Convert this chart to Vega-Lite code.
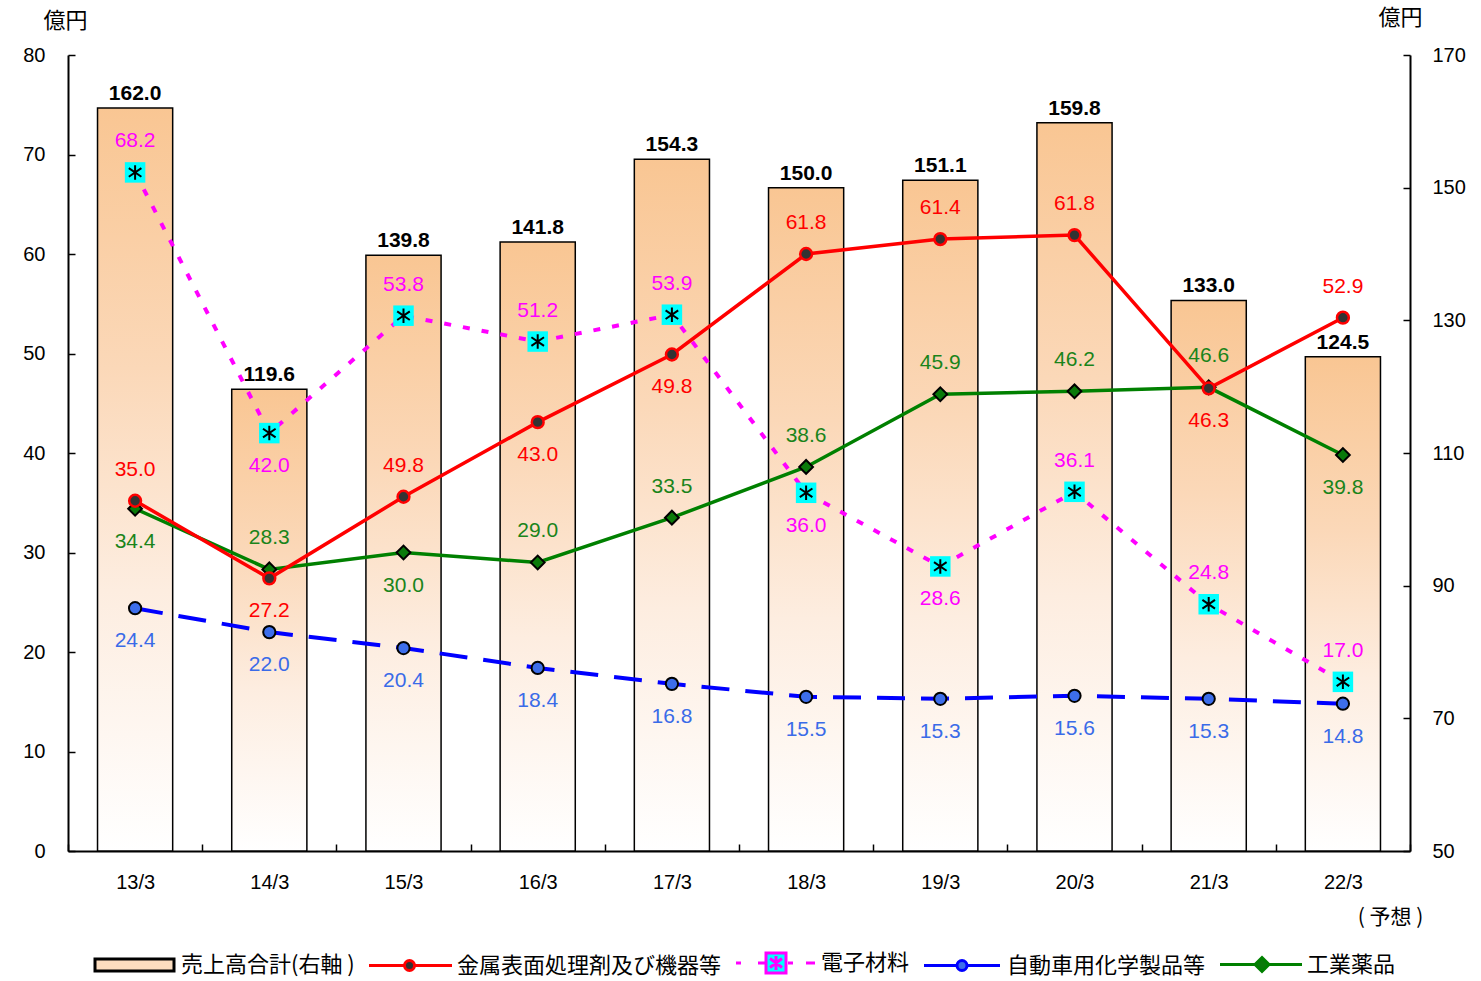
{
  "$schema": "https://vega.github.io/schema/vega-lite/v6.json",
  "width": 1342,
  "height": 796,
  "autosize": {"type": "none"},
  "padding": {"left": 68, "top": 55, "right": 71, "bottom": 130},
  "background": "white",
  "config": {
    "view": {"stroke": null},
    "font": "Liberation Sans",
    "axis": {"labelFont": "Liberation Sans", "labelColor": "black", "labelFontSize": 20, "domainColor": "black", "domainWidth": 2, "tickColor": "black", "tickWidth": 1.5, "grid": false}
  },
  "datasets": {
    "bars": [
      {"cat": "13/3", "total": 162.0},
      {"cat": "14/3", "total": 119.6},
      {"cat": "15/3", "total": 139.8},
      {"cat": "16/3", "total": 141.8},
      {"cat": "17/3", "total": 154.3},
      {"cat": "18/3", "total": 150.0},
      {"cat": "19/3", "total": 151.1},
      {"cat": "20/3", "total": 159.8},
      {"cat": "21/3", "total": 133.0},
      {"cat": "22/3", "total": 124.5}
    ],
    "lines": [
      {"cat": "13/3", "series": "金属表面処理剤及び機器等", "value": 35.2, "label": "35.0"},
      {"cat": "14/3", "series": "金属表面処理剤及び機器等", "value": 27.4, "label": "27.2"},
      {"cat": "15/3", "series": "金属表面処理剤及び機器等", "value": 35.6, "label": "49.8"},
      {"cat": "16/3", "series": "金属表面処理剤及び機器等", "value": 43.1, "label": "43.0"},
      {"cat": "17/3", "series": "金属表面処理剤及び機器等", "value": 49.9, "label": "49.8"},
      {"cat": "18/3", "series": "金属表面処理剤及び機器等", "value": 60.0, "label": "61.8"},
      {"cat": "19/3", "series": "金属表面処理剤及び機器等", "value": 61.5, "label": "61.4"},
      {"cat": "20/3", "series": "金属表面処理剤及び機器等", "value": 61.9, "label": "61.8"},
      {"cat": "21/3", "series": "金属表面処理剤及び機器等", "value": 46.5, "label": "46.3"},
      {"cat": "22/3", "series": "金属表面処理剤及び機器等", "value": 53.6, "label": "52.9"},
      {"cat": "13/3", "series": "電子材料", "value": 68.2, "label": "68.2"},
      {"cat": "14/3", "series": "電子材料", "value": 42.0, "label": "42.0"},
      {"cat": "15/3", "series": "電子材料", "value": 53.8, "label": "53.8"},
      {"cat": "16/3", "series": "電子材料", "value": 51.2, "label": "51.2"},
      {"cat": "17/3", "series": "電子材料", "value": 53.9, "label": "53.9"},
      {"cat": "18/3", "series": "電子材料", "value": 36.0, "label": "36.0"},
      {"cat": "19/3", "series": "電子材料", "value": 28.6, "label": "28.6"},
      {"cat": "20/3", "series": "電子材料", "value": 36.1, "label": "36.1"},
      {"cat": "21/3", "series": "電子材料", "value": 24.8, "label": "24.8"},
      {"cat": "22/3", "series": "電子材料", "value": 17.0, "label": "17.0"},
      {"cat": "13/3", "series": "自動車用化学製品等", "value": 24.4, "label": "24.4"},
      {"cat": "14/3", "series": "自動車用化学製品等", "value": 22.0, "label": "22.0"},
      {"cat": "15/3", "series": "自動車用化学製品等", "value": 20.4, "label": "20.4"},
      {"cat": "16/3", "series": "自動車用化学製品等", "value": 18.4, "label": "18.4"},
      {"cat": "17/3", "series": "自動車用化学製品等", "value": 16.8, "label": "16.8"},
      {"cat": "18/3", "series": "自動車用化学製品等", "value": 15.5, "label": "15.5"},
      {"cat": "19/3", "series": "自動車用化学製品等", "value": 15.3, "label": "15.3"},
      {"cat": "20/3", "series": "自動車用化学製品等", "value": 15.6, "label": "15.6"},
      {"cat": "21/3", "series": "自動車用化学製品等", "value": 15.3, "label": "15.3"},
      {"cat": "22/3", "series": "自動車用化学製品等", "value": 14.8, "label": "14.8"},
      {"cat": "13/3", "series": "工業薬品", "value": 34.4, "label": "34.4"},
      {"cat": "14/3", "series": "工業薬品", "value": 28.3, "label": "28.3"},
      {"cat": "15/3", "series": "工業薬品", "value": 30.0, "label": "30.0"},
      {"cat": "16/3", "series": "工業薬品", "value": 29.0, "label": "29.0"},
      {"cat": "17/3", "series": "工業薬品", "value": 33.5, "label": "33.5"},
      {"cat": "18/3", "series": "工業薬品", "value": 38.6, "label": "38.6"},
      {"cat": "19/3", "series": "工業薬品", "value": 45.9, "label": "45.9"},
      {"cat": "20/3", "series": "工業薬品", "value": 46.2, "label": "46.2"},
      {"cat": "21/3", "series": "工業薬品", "value": 46.6, "label": "46.6"},
      {"cat": "22/3", "series": "工業薬品", "value": 39.8, "label": "39.8"}
    ]
  },
  "encoding": {
    "x": {
      "field": "cat", "type": "ordinal", "sort": null,
      "scale": {"domain": ["13/3","14/3","15/3","16/3","17/3","18/3","19/3","20/3","21/3","22/3"], "paddingInner": 0, "paddingOuter": 0},
      "axis": {"labelAngle": 0, "tickBand": "extent", "tickSize": -7, "labelPadding": 28,
        "title": "( 予想 )", "titleX": 1322, "titleY": 66, "titleAlign": "center", "titleBaseline": "middle",
        "titleFont": "Noto Sans CJK JP", "titleFontSize": 21, "titleFontWeight": "normal", "titleColor": "black"}
    }
  },
  "layer": [
    {
      "data": {"name": "bars"},
      "encoding": {
        "y": {"field": "total", "type": "quantitative",
          "scale": {"domain": [50, 170], "nice": false, "zero": false},
          "axis": {"orient": "right", "values": [50, 70, 90, 110, 130, 150, 170], "tickSize": -7, "labelPadding": 29,
            "title": "億円", "titleAngle": 0, "titleX": -10, "titleY": -38, "titleAlign": "center", "titleBaseline": "middle",
            "titleFont": "Noto Sans CJK JP", "titleFontSize": 22, "titleFontWeight": "normal", "titleColor": "black"}}
      },
      "layer": [
        {"mark": {"type": "bar", "width": {"band": 0.56}, "stroke": "black", "strokeWidth": 1.5,
          "fill": {"gradient": "linear", "x1": 0, "y1": 0, "x2": 0, "y2": 1,
            "stops": [{"offset": 0, "color": "#F9C693"}, {"offset": 0.35, "color": "#FBD8B8"}, {"offset": 0.65, "color": "#FDEDE0"}, {"offset": 1, "color": "#FFFFFF"}]}},
          "encoding": {"y2": {"datum": 50}}},
        {"mark": {"type": "text", "dy": -8, "baseline": "alphabetic", "fontWeight": "bold", "fontSize": 21, "color": "black"},
          "encoding": {"text": {"field": "total", "type": "quantitative", "format": ".1f"}}}
      ]
    },
    {
      "data": {"name": "lines"},
      "encoding": {
        "y": {"field": "value", "type": "quantitative",
          "scale": {"domain": [0, 80], "nice": false},
          "axis": {"orient": "left", "values": [0, 10, 20, 30, 40, 50, 60, 70, 80], "tickSize": -7, "labelPadding": 30,
            "title": "億円", "titleAngle": 0, "titleX": -3, "titleY": -35, "titleAlign": "center", "titleBaseline": "middle",
            "titleFont": "Noto Sans CJK JP", "titleFontSize": 22, "titleFontWeight": "normal", "titleColor": "black"}}
      },
      "layer": [
        {"transform": [{"filter": "datum.series == '自動車用化学製品等'"}],
          "mark": {"type": "line", "color": "#0000FF", "strokeWidth": 4, "strokeDash": [28, 16]}},
        {"transform": [{"filter": "datum.series == '電子材料'"}],
          "mark": {"type": "line", "color": "#FF00FF", "strokeWidth": 4, "strokeDash": [7, 12]}},
        {"transform": [{"filter": "datum.series == '工業薬品'"}],
          "mark": {"type": "line", "color": "#008000", "strokeWidth": 3.5}},
        {"transform": [{"filter": "datum.series == '金属表面処理剤及び機器等'"}],
          "mark": {"type": "line", "color": "#FF0000", "strokeWidth": 3.5}},
        {"transform": [{"filter": "datum.series == '自動車用化学製品等'"}],
          "mark": {"type": "point", "shape": "circle", "filled": true, "fill": "#3D6EEB", "stroke": "black", "strokeWidth": 2, "size": 150, "opacity": 1}},
        {"transform": [{"filter": "datum.series == '電子材料'"}],
          "mark": {"type": "point", "shape": "square", "filled": true, "fill": "#00FFFF", "strokeWidth": 0, "size": 420, "opacity": 1}},
        {"transform": [{"filter": "datum.series == '電子材料'"}],
          "mark": {"type": "point", "shape": "M0,-1V1M-0.87,-0.6L0.87,0.6M-0.87,0.6L0.87,-0.6", "filled": false, "stroke": "black", "strokeWidth": 2, "size": 210, "opacity": 1}},
        {"transform": [{"filter": "datum.series == '工業薬品'"}],
          "mark": {"type": "point", "shape": "diamond", "filled": true, "fill": "#0A7A0A", "stroke": "black", "strokeWidth": 2, "size": 190, "opacity": 1}},
        {"transform": [{"filter": "datum.series == '金属表面処理剤及び機器等'"}],
          "mark": {"type": "point", "shape": "circle", "filled": true, "fill": "#333333", "stroke": "#FF0000", "strokeWidth": 2.5, "size": 140, "opacity": 1}},
        {"transform": [{"filter": "(datum.series=='金属表面処理剤及び機器等' && indexof(['13/3','15/3','18/3','19/3','20/3','22/3'], datum.cat) >= 0) || (datum.series=='電子材料' && indexof(['13/3','15/3','16/3','17/3','20/3','21/3','22/3'], datum.cat) >= 0) || (datum.series=='工業薬品' && indexof(['14/3','16/3','17/3','18/3','19/3','20/3','21/3'], datum.cat) >= 0)"}],
          "mark": {"type": "text", "dy": -31, "baseline": "middle", "fontSize": 21},
          "encoding": {"text": {"field": "label"},
            "color": {"field": "series", "type": "nominal", "legend": null,
              "scale": {"domain": ["金属表面処理剤及び機器等", "電子材料", "自動車用化学製品等", "工業薬品"], "range": ["#FF0000", "#FF00FF", "#3A6BE8", "#1A841A"]}}}},
        {"transform": [{"filter": "!((datum.series=='金属表面処理剤及び機器等' && indexof(['13/3','15/3','18/3','19/3','20/3','22/3'], datum.cat) >= 0) || (datum.series=='電子材料' && indexof(['13/3','15/3','16/3','17/3','20/3','21/3','22/3'], datum.cat) >= 0) || (datum.series=='工業薬品' && indexof(['14/3','16/3','17/3','18/3','19/3','20/3','21/3'], datum.cat) >= 0))"}],
          "mark": {"type": "text", "dy": 33, "baseline": "middle", "fontSize": 21},
          "encoding": {"text": {"field": "label"},
            "color": {"field": "series", "type": "nominal", "legend": null,
              "scale": {"domain": ["金属表面処理剤及び機器等", "電子材料", "自動車用化学製品等", "工業薬品"], "range": ["#FF0000", "#FF00FF", "#3A6BE8", "#1A841A"]}}}},
        {"transform": [{"filter": "false"}],
          "mark": {"type": "point", "filled": true, "opacity": 1},
          "encoding": {
            "shape": {"field": "series", "type": "nominal",
              "scale": {"domain": ["売上高合計(右軸 )", "金属表面処理剤及び機器等", "電子材料", "自動車用化学製品等", "工業薬品"],
                "range": [
                  "M-15.2,-1.2H0.6V1.2H-15.2Z",
                  "M-15.6,0H-8.5M-6.5,0H1M-8.5,0A1,1 0 1,1 -6.5,0A1,1 0 1,1 -8.5,0",
                  "M-15,0H-14M-10.6,0H-9.2M-4.6,0H-3.6M-1,0H0.8M-9,-2H-5V2H-9ZM-7,-1.4V1.4M-8.2,-0.9L-5.8,0.9M-8.2,0.9L-5.8,-0.9",
                  "M-14.6,0H-8M-6,0H0.6M-8,0A1,1 0 1,1 -6,0A1,1 0 1,1 -8,0",
                  "M-15.4,0H-8.4M-5.6,0H1M-7,-1.4L-5.6,0L-7,1.4L-8.4,0Z"
                ]},
              "legend": {"orient": "none", "legendX": 92, "legendY": 897, "direction": "horizontal", "columns": 5, "title": null,
                "symbolSize": 100, "symbolStrokeWidth": 3, "labelFont": "Noto Sans CJK JP", "labelFontSize": 22, "labelColor": "black", "labelOffset": -1, "columnPadding": 8, "labelLimit": 400}},
            "fill": {"field": "series", "type": "nominal",
              "scale": {"domain": ["売上高合計(右軸 )", "金属表面処理剤及び機器等", "電子材料", "自動車用化学製品等", "工業薬品"],
                "range": ["#FCDDBF", "#333333", "#00FFFF", "#3D6EEB", "#0A7A0A"]},
              "legend": {"orient": "none", "legendX": 92, "legendY": 897, "direction": "horizontal", "columns": 5, "title": null,
                "symbolSize": 100, "symbolStrokeWidth": 3, "labelFont": "Noto Sans CJK JP", "labelFontSize": 22, "labelColor": "black", "labelOffset": -1, "columnPadding": 8, "labelLimit": 400}},
            "stroke": {"field": "series", "type": "nominal",
              "scale": {"domain": ["売上高合計(右軸 )", "金属表面処理剤及び機器等", "電子材料", "自動車用化学製品等", "工業薬品"],
                "range": ["#000000", "#FF0000", "#FF00FF", "#0000FF", "#008000"]},
              "legend": {"orient": "none", "legendX": 92, "legendY": 897, "direction": "horizontal", "columns": 5, "title": null,
                "symbolSize": 100, "symbolStrokeWidth": 3, "labelFont": "Noto Sans CJK JP", "labelFontSize": 22, "labelColor": "black", "labelOffset": -1, "columnPadding": 8, "labelLimit": 400}}
          }}
      ]
    }
  ],
  "resolve": {"scale": {"y": "independent"}}
}
